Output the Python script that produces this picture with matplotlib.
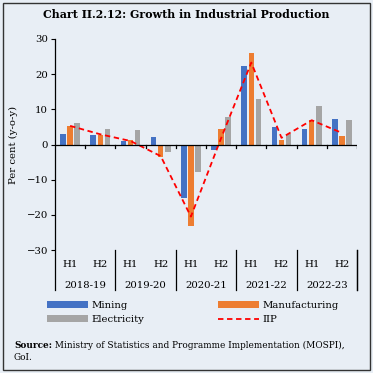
import numpy as np
import matplotlib
matplotlib.use("Agg")
import matplotlib.pyplot as plt
from matplotlib.lines import Line2D
from matplotlib.patches import Rectangle

halves = ["H1", "H2", "H1", "H2", "H1", "H2", "H1", "H2", "H1", "H2"]
years = ["2018-19", "2019-20", "2020-21", "2021-22", "2022-23"]
mining = [3.1, 2.6, 1.0, 2.0, -15.1, -1.5, 22.4, 4.9, 4.5, 7.3]
manufacturing = [5.4, 2.7, 1.3, -3.6, -23.3, 4.3, 26.0, 1.4, 6.9, 2.4]
electricity = [6.2, 4.3, 4.0, -2.2, -7.9, 7.9, 12.9, 3.1, 10.9, 7.1]
iip = [5.3, 2.9, 1.0, -3.3, -20.5, 1.8, 23.3, 1.9, 6.9, 3.3]

bg = "#e8eef5"
plt.rcParams["font.family"] = "DejaVu Serif"
fs = 7.3

fig = plt.figure(figsize=(3.73, 3.73), dpi=100, facecolor=bg)
ax = fig.add_axes([55 / 373, 1 - 250 / 373, 302 / 373, 211 / 373], facecolor=bg)

x = np.arange(len(halves))
w = 0.18
off = 0.235
ax.bar(x - off, mining, w, color="#4472c4", label="Mining")
ax.bar(x, manufacturing, w, color="#ed7d31", label="Manufacturing")
ax.bar(x + off, electricity, w, color="#a5a5a5", label="Electricity")
ax.plot(x, iip, color="#ff0000", ls=(0, (3, 2)), lw=1.3, label="IIP")

ax.set_xlim(-0.5, len(halves) - 0.5)
ax.set_ylim(-30, 30)
ax.set_yticks(range(-30, 31, 10))
ax.tick_params(axis="y", labelsize=fs, length=3, width=0.8, pad=2)
ax.set_xticks([])
for s in ax.spines.values():
    s.set_visible(False)

# zero line with small ticks at category boundaries
ax.axhline(0, color="black", lw=0.9)
for b in np.arange(0.5, len(halves), 1.0):
    ax.plot([b, b], [0, -0.9], color="black", lw=0.9)

tr = ax.get_xaxis_transform()
# left axis line extended into label area
ax.add_line(Line2D([-0.5, -0.5], [-0.19, 1], transform=tr, color="black", lw=0.9, clip_on=False))
for b in np.arange(1.5, len(halves), 2.0):
    ax.add_line(Line2D([b, b], [-0.19, 0], transform=tr, color="black", lw=0.9, clip_on=False))
ax.add_line(Line2D([len(halves) - 0.5] * 2, [-0.19, 0], transform=tr, color="black", lw=0.9, clip_on=False))

for i, h in enumerate(halves):
    ax.text(i, -0.068, h, transform=tr, ha="center", va="center", fontsize=fs)
for j, yr in enumerate(years):
    ax.text(2 * j + 0.5, -0.168, yr, transform=tr, ha="center", va="center", fontsize=fs)

ax.set_ylabel("Per cent (y-o-y)", fontsize=fs, labelpad=6)

fig.text(0.5, 1 - 15 / 373, "Chart II.2.12: Growth in Industrial Production",
         ha="center", va="center", fontsize=7.9, fontweight="bold")

h, l = ax.get_legend_handles_labels()
order = [1, 3, 2, 0]
fig.legend([h[i] for i in order], [l[i] for i in order], ncol=2,
           loc="upper left", bbox_to_anchor=(38 / 373, 1 - 292 / 373),
           frameon=False, fontsize=fs, handlelength=4.0, handleheight=0.6,
           columnspacing=7.3, handletextpad=0.35, labelspacing=0.5)

sfs = 6.4
t1 = fig.text(14 / 373, 1 - 345 / 373, "Source:", fontsize=sfs, fontweight="bold", va="center")
ax.annotate(" Ministry of Statistics and Programme Implementation (MOSPI),",
            xy=(1, 0.5), xycoords=t1, va="center", fontsize=sfs, annotation_clip=False)
fig.text(14 / 373, 1 - 358 / 373, "GoI.", fontsize=sfs, va="center")

fig.patches.append(Rectangle((3 / 373, 3 / 373), 367 / 373, 367 / 373, transform=fig.transFigure,
                             fill=False, edgecolor="#333333", lw=1))

fig.savefig("out.png", dpi=100, facecolor=bg)
